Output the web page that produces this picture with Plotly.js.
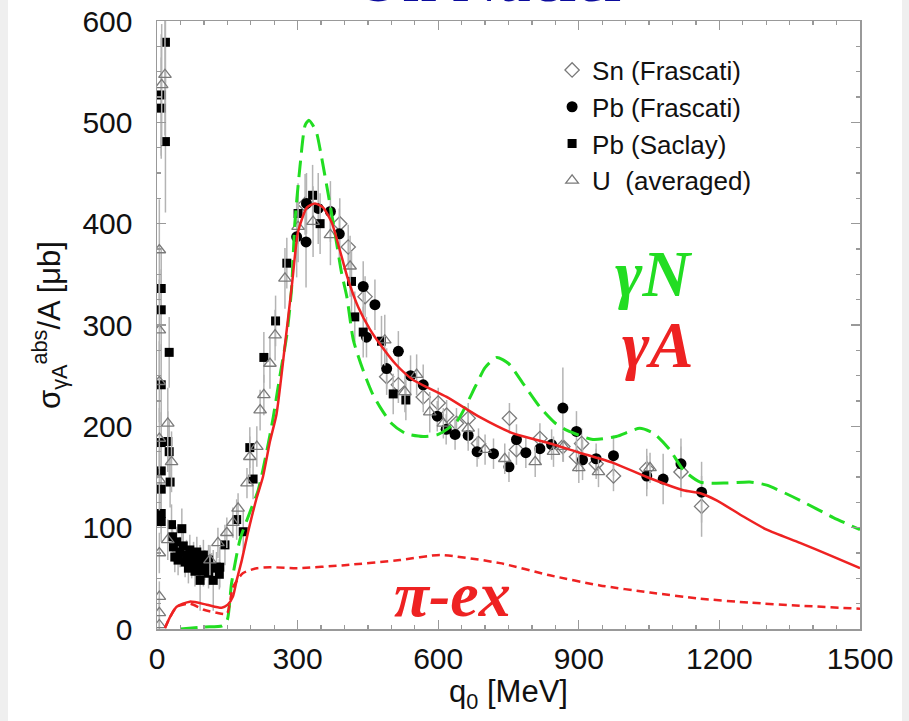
<!DOCTYPE html>
<html>
<head>
<meta charset="utf-8">
<script src="https://cdn.plot.ly/plotly-3.0.1.min.js"></script>
<style>
  html, body { margin: 0; padding: 0; background: #efefef; }
  #sheet { position: absolute; left: 8px; top: 0; width: 894px; height: 721px; background: #ffffff; }
  #plot { position: absolute; left: 0; top: 0; width: 909px; height: 721px; }
</style>
</head>
<body>
<div id="sheet"></div>
<div id="plot"></div>
<script>
// ---- data ----
// Sn (Frascati), open diamonds
const snX = [316, 390, 408, 444, 490, 515, 568, 600, 618, 639, 664, 686, 752, 767, 817, 866, 895, 906, 937, 974, 1045, 1118, 1162];
const snY = [419, 400, 377, 328, 249, 241, 229, 223, 211, 203, 208, 183, 208, 177, 188, 180, 170, 183, 163, 151, 158, 155, 121];
const snE = [30, 25, 22, 20, 18, 18, 15, 15, 15, 15, 15, 15, 15, 15, 15, 15, 15, 15, 15, 15, 20, 25, 30];

// Pb (Frascati), filled circles
const pfX = [298, 318, 319, 344, 370, 389, 440, 447, 465, 490, 515, 541, 568, 598, 617, 636, 664, 683, 718, 751, 767, 787, 817, 842, 866, 895, 908, 937, 974, 1045, 1080, 1118, 1162];
const pfY = [387, 382, 420, 415, 412, 390, 338, 288, 320, 257, 274, 250, 241, 210, 197, 192, 191, 175, 173, 160, 187, 174, 178, 182, 218, 195, 167, 168, 171, 151, 148, 163, 135];
const pfE = [40, 45, 30, 35, 30, 25, 25, 20, 25, 20, 20, 20, 20, 15, 15, 15, 15, 15, 15, 15, 15, 15, 15, 15, 40, 20, 20, 15, 20, 20, 25, 25, 30];

// Pb (Saclay), filled squares
const psX = [18, 9, 9, 18, 9, 9, 26, 9, 23, 9, 26, 9, 28, 9, 9, 9, 31, 53, 33, 35, 42, 49, 56, 63, 70, 78, 85, 92, 99, 38, 45, 60, 74, 88, 102, 110, 117, 127, 133, 67, 81, 99, 110, 92, 120, 134, 145, 170, 184, 198, 205, 228, 253, 277, 301, 332, 348, 415, 422, 440, 479, 504, 531];
const psY = [579, 527, 514, 481, 336, 315, 273, 241, 185, 184, 175, 156, 145, 138, 114, 106, 103, 99, 91, 81, 86, 76, 82, 73, 78, 71, 76, 68, 73, 71, 68, 66, 65, 61, 63, 68, 60, 61, 54, 60, 57, 57, 55, 48, 48, 61, 83, 108, 96, 179, 148, 268, 304, 361, 410, 428, 400, 343, 308, 293, 284, 232, 226];
const psE = [40, 60, 50, 70, 40, 40, 35, 40, 30, 30, 30, 30, 25, 25, 20, 20, 20, 20, 15, 15, 15, 15, 15, 15, 15, 15, 15, 15, 15, 15, 15, 15, 15, 15, 15, 15, 15, 15, 15, 15, 15, 15, 15, 30, 30, 20, 20, 20, 20, 20, 20, 25, 25, 25, 30, 30, 30, 30, 25, 25, 25, 20, 20];

// U (averaged), open triangles
const uX = [17, 10, 5, 5, 5, 23, 5, 31, 5, 23, 5, 5, 5, 5, 113, 130, 149, 162, 173, 192, 198, 213, 220, 228, 241, 252, 273, 301, 333, 370, 412, 486, 529, 554, 582, 611, 664, 700, 742, 807, 846, 867, 900, 942, 1052];
const uY = [547, 537, 374, 295, 244, 203, 188, 165, 147, 88, 75, 32, 16, 4, 68, 85, 95, 105, 119, 144, 170, 180, 216, 231, 262, 290, 346, 397, 402, 389, 358, 285, 234, 251, 214, 203, 198, 177, 168, 165, 175, 180, 159, 155, 159];
const uE = [60, 60, 50, 50, 40, 35, 30, 30, 30, 20, 20, 15, 15, 10, 15, 15, 15, 15, 15, 15, 20, 20, 20, 20, 25, 25, 30, 35, 35, 30, 30, 25, 20, 20, 20, 15, 15, 15, 15, 15, 15, 15, 15, 15, 15];

// gamma-N curve (green dashed)
const gnX = [50, 100, 139, 150, 159, 177, 198, 216, 234, 248, 262, 277, 287, 294, 305, 316, 324, 334, 341, 351, 365, 380, 394, 405, 419, 440, 460, 476, 500, 530, 568, 600, 640, 680, 700, 725, 750, 780, 817, 850, 875, 930, 980, 1030, 1060, 1094, 1123, 1159, 1216, 1265, 1301, 1372, 1443, 1500];
const gnY = [0, 2, 3, 9, 45, 88, 115, 137, 175, 209, 249, 290, 335, 400, 456, 497, 502, 496, 489, 466, 430, 390, 351, 328, 285, 255, 232, 219, 203, 193, 190, 192, 205, 240, 258, 268, 262, 243, 219, 203, 196, 187, 190, 198, 193, 177, 157, 145, 144, 145, 142, 127, 110, 98];

// gamma-A curve (red solid)
const gaX = [17, 28, 42, 70, 106, 138, 151, 162, 170, 181, 194, 213, 226, 241, 255, 273, 288, 301, 320, 337, 354, 373, 390, 407, 429, 454, 476, 510, 546, 618, 689, 760, 832, 902, 973, 1045, 1123, 1159, 1194, 1251, 1301, 1372, 1440, 1500];
const gaY = [1, 12, 22, 27, 24, 21, 24, 32, 48, 68, 95, 130, 150, 185, 212, 280, 340, 392, 416, 420, 416, 401, 374, 346, 318, 296, 281, 261, 246, 229, 209, 193, 184, 174, 164, 150, 137, 134, 127, 111, 98, 85, 72, 60];

// pi-exchange curve (red short dash)
const piX = [17, 28, 42, 70, 100, 128, 149, 162, 183, 213, 241, 299, 400, 518, 604, 732, 838, 945, 1052, 1158, 1265, 1372, 1500];
const piY = [1, 12, 22, 25, 19, 16, 15, 41, 55, 60, 61, 60, 63, 68, 73, 65, 53, 43, 36, 30, 26, 23, 20];

const legendNames = ["Sn (Frascati)", "Pb (Frascati)", "Pb (Saclay)", "U\u00A0 (averaged)"];

// ---- traces ----
const errStyle = (arr) => ({type: 'data', array: arr, visible: true, color: '#b4b4b4', thickness: 1.5, width: 0});

const traces = [
  {x: snX, y: snY, error_y: errStyle(snE), mode: 'markers', type: 'scatter', name: legendNames[0],
   marker: {symbol: 'diamond-open', size: 11, color: '#7a7a7a', line: {width: 1.3, color: '#7a7a7a'}}},
  {x: pfX, y: pfY, error_y: errStyle(pfE), mode: 'markers', type: 'scatter', name: legendNames[1],
   marker: {symbol: 'circle', size: 11, color: '#000000'}},
  {x: psX, y: psY, error_y: errStyle(psE), mode: 'markers', type: 'scatter', name: legendNames[2],
   marker: {symbol: 'square', size: 9, color: '#000000'}},
  {x: uX, y: uY, error_y: errStyle(uE), mode: 'markers', type: 'scatter', name: legendNames[3],
   marker: {symbol: 'triangle-up-open', size: 11, color: '#7a7a7a', line: {width: 1.3, color: '#7a7a7a'}}},
  {x: gnX, y: gnY, mode: 'lines', type: 'scatter', showlegend: false,
   line: {color: '#22dd22', width: 3, dash: '17px,8px', shape: 'spline', smoothing: 0.6}},
  {x: piX, y: piY, mode: 'lines', type: 'scatter', showlegend: false,
   line: {color: '#ee2222', width: 2.5, dash: '8px,5px', shape: 'spline', smoothing: 0.6}},
  {x: gaX, y: gaY, mode: 'lines', type: 'scatter', showlegend: false,
   line: {color: '#ee2222', width: 2.5, shape: 'spline', smoothing: 0.6}}
];

const tickFont = {family: 'Liberation Sans, Arial, sans-serif', size: 30, color: '#111111'};
const titleFont = {family: 'Liberation Sans, Arial, sans-serif', size: 31, color: '#111111'};

const layout = {
  width: 909, height: 721, autosize: false,
  paper_bgcolor: 'rgba(0,0,0,0)', plot_bgcolor: '#ffffff',
  margin: {l: 157, r: 49, t: 21, b: 92, pad: 0},
  showlegend: true,
  legend: {x: 0.562, y: 0.958, xanchor: 'left', yanchor: 'top', bgcolor: 'rgba(0,0,0,0)',
           font: {family: 'Liberation Sans, Arial, sans-serif', size: 26, color: '#111111'}},
  xaxis: {range: [0, 1500], dtick: 300, tick0: 0, ticks: 'inside', ticklen: 9, tickwidth: 1.3, tickcolor: '#999999',
          showline: true, linecolor: '#999999', linewidth: 1.5, mirror: 'ticks', showgrid: false, zeroline: false,
          tickfont: tickFont, ticklabelstandoff: 2,
          minor: {dtick: 50, ticks: 'inside', ticklen: 4, tickcolor: '#999999', showgrid: false},
          title: {text: 'q<sub>0</sub> [MeV]', font: titleFont, standoff: 6}},
  yaxis: {range: [0, 600], dtick: 100, tick0: 0, ticks: 'inside', ticklen: 9, tickwidth: 1.3, tickcolor: '#999999',
          showline: true, linecolor: '#999999', linewidth: 1.5, mirror: 'ticks', showgrid: false, zeroline: false,
          tickfont: tickFont, ticklabelstandoff: 17,
          minor: {dtick: 25, ticks: 'inside', ticklen: 4, tickcolor: '#999999', showgrid: false},
          title: {text: 'σ<sub>γA</sub><sup>abs</sup>/A [μb]', font: titleFont, standoff: 12}},
  annotations: [
    {text: '<b>On Nuclei</b>', xref: 'paper', yref: 'paper', x: 0.47, y: 1.009, xanchor: 'center', yanchor: 'bottom',
     showarrow: false, font: {family: 'Liberation Serif, Times New Roman, serif', size: 62, color: '#0b0b9c'}},
    {text: '<b><i>γN</i></b>', xref: 'paper', yref: 'paper', x: 0.706, y: 0.585, xanchor: 'center', yanchor: 'middle',
     showarrow: false, font: {family: 'Liberation Serif, Times New Roman, serif', size: 66, color: '#22dd22'}},
    {text: '<b><i>γA</i></b>', xref: 'paper', yref: 'paper', x: 0.712, y: 0.468, xanchor: 'center', yanchor: 'middle',
     showarrow: false, font: {family: 'Liberation Serif, Times New Roman, serif', size: 66, color: '#ee2222'}},
    {text: '<b><i>π-ex</i></b>', xref: 'paper', yref: 'paper', x: 0.42, y: 0.056, xanchor: 'center', yanchor: 'middle',
     showarrow: false, font: {family: 'Liberation Serif, Times New Roman, serif', size: 64, color: '#ee2222'}}
  ]
};

Plotly.newPlot('plot', traces, layout, {displayModeBar: false, staticPlot: true});
</script>
</body>
</html>
